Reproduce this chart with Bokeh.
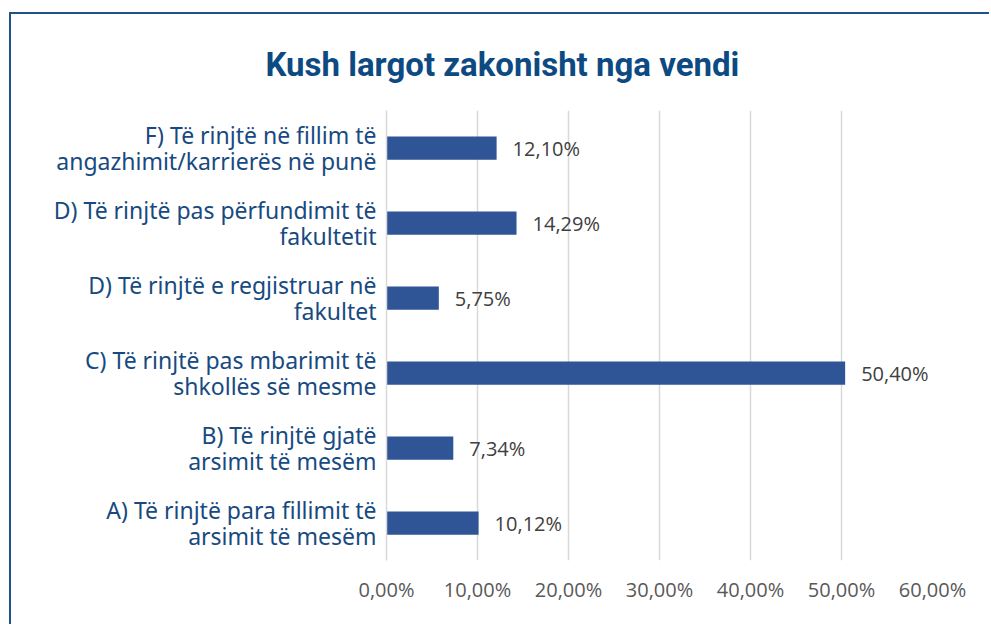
from bokeh.plotting import figure
from bokeh.models import ColumnDataSource, LabelSet, FactorRange, Title
from bokeh.core.properties import value
from bokeh.embed import file_html
from bokeh.resources import INLINE

title_text = "Kush largot zakonisht nga vendi"
categories = [
    "A) Të rinjtë para fillimit të\narsimit të mesëm",
    "B) Të rinjtë gjatë\narsimit të mesëm",
    "C) Të rinjtë pas mbarimit të\nshkollës së mesme",
    "D) Të rinjtë e regjistruar në\nfakultet",
    "D) Të rinjtë pas përfundimit të\nfakultetit",
    "F) Të rinjtë në fillim të\nangazhimit/karrierës në punë",
]
values = [10.12, 7.34, 50.40, 5.75, 14.29, 12.10]
value_labels = ["10,12%", "7,34%", "50,40%", "5,75%", "14,29%", "12,10%"]
x_ticks = [0, 10, 20, 30, 40, 50, 60]
x_tick_labels = ["0,00%", "10,00%", "20,00%", "30,00%", "40,00%", "50,00%", "60,00%"]

src = ColumnDataSource(dict(cat=categories, val=values, lab=value_labels))

p = figure(width=980, height=612, y_range=FactorRange(*categories), x_range=(0, 60),
           output_backend="svg", toolbar_location=None,
           min_border_left=375, min_border_right=59, min_border_top=96, min_border_bottom=66)
p.margin = (12, 0, 0, 9)
p.styles = {"border-top": "2px solid #1f528a", "border-left": "2px solid #1f528a"}
p.outline_line_color = None
p.background_fill_color = "white"
p.border_fill_color = "white"

p.hbar(y="cat", right="val", left=0, height=0.31, source=src, color="#2f5597", line_color=None)

labels = LabelSet(x="val", y="cat", text="lab", source=src, x_offset=16, y_offset=0,
                  text_baseline="middle", text_align="left", text_font=value("Open Sans"),
                  text_font_size="20px", text_color="#404040")
p.add_layout(labels)

p.xaxis.ticker = x_ticks
p.xaxis.major_label_overrides = {t: l for t, l in zip(x_ticks, x_tick_labels)}
p.xaxis.axis_line_color = None
p.xaxis.major_tick_line_color = None
p.xaxis.minor_tick_line_color = None
p.xaxis.major_label_text_font = "Open Sans"
p.xaxis.major_label_text_font_size = "20px"
p.xaxis.major_label_text_color = "#595959"
p.xaxis.major_label_standoff = 9

p.yaxis.axis_line_color = "#d9d9d9"
p.yaxis.axis_line_width = 1.5
p.yaxis.major_tick_line_color = None
p.yaxis.minor_tick_line_color = None
p.yaxis.major_label_text_font = "Noto Sans"
p.yaxis.major_label_text_font_size = "23px"
p.yaxis.major_label_text_color = "#174a80"
p.yaxis.major_label_text_align = "right"
p.yaxis.major_label_text_line_height = 0.8
p.yaxis.major_label_standoff = 4

p.xgrid.grid_line_color = "#d9d9d9"
p.xgrid.grid_line_width = 1.5
p.ygrid.grid_line_color = None

title = Title(text=title_text, align="left", offset=-121, standoff=53,
              text_font="Roboto", text_font_style="bold",
              text_font_size="33px", text_color="#0d4a82")
p.add_layout(title, "above")

open("out.html", "w").write(file_html(p, INLINE))
